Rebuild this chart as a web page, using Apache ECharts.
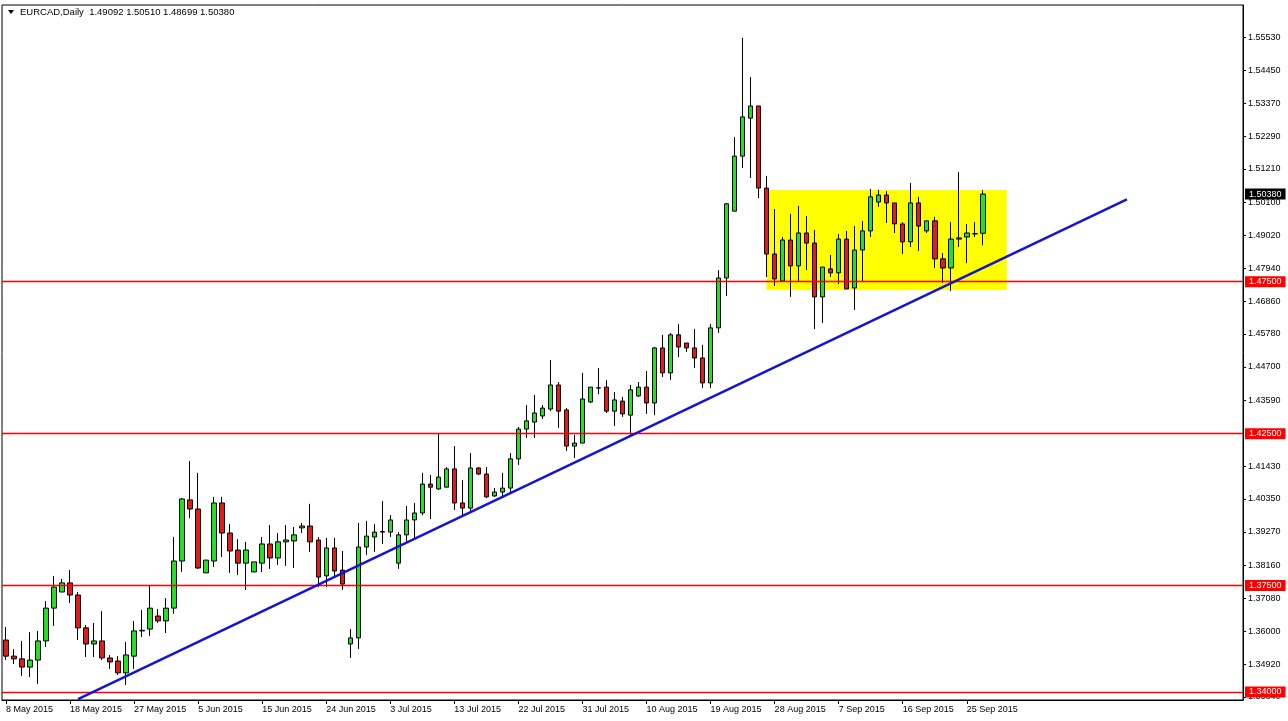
<!DOCTYPE html>
<html><head><meta charset="utf-8">
<script src="https://cdn.jsdelivr.net/npm/echarts@6/dist/echarts.min.js"></script>
<style>html,body{margin:0;padding:0;background:#fff}#c{width:1288px;height:721px}</style>
</head><body><div id="c"></div>
<script>
const symbolName = 'EURCAD,Daily';
const dates = ['8 May 2015','10 May 2015','11 May 2015','12 May 2015','13 May 2015','14 May 2015','15 May 2015','17 May 2015','18 May 2015','19 May 2015','20 May 2015','21 May 2015','22 May 2015','24 May 2015','25 May 2015','26 May 2015','27 May 2015','28 May 2015','29 May 2015','31 May 2015',
'1 Jun 2015','2 Jun 2015','3 Jun 2015','4 Jun 2015','5 Jun 2015','7 Jun 2015','8 Jun 2015','9 Jun 2015','10 Jun 2015','11 Jun 2015','12 Jun 2015','14 Jun 2015','15 Jun 2015','16 Jun 2015','17 Jun 2015','18 Jun 2015','19 Jun 2015','21 Jun 2015','22 Jun 2015','23 Jun 2015','24 Jun 2015','25 Jun 2015','26 Jun 2015','28 Jun 2015','29 Jun 2015','30 Jun 2015',
'1 Jul 2015','2 Jul 2015','3 Jul 2015','5 Jul 2015','6 Jul 2015','7 Jul 2015','8 Jul 2015','9 Jul 2015','10 Jul 2015','12 Jul 2015','13 Jul 2015','14 Jul 2015','15 Jul 2015','16 Jul 2015','17 Jul 2015','19 Jul 2015','20 Jul 2015','21 Jul 2015','22 Jul 2015','23 Jul 2015','24 Jul 2015','26 Jul 2015','27 Jul 2015','28 Jul 2015','29 Jul 2015','30 Jul 2015','31 Jul 2015',
'2 Aug 2015','3 Aug 2015','4 Aug 2015','5 Aug 2015','6 Aug 2015','7 Aug 2015','9 Aug 2015','10 Aug 2015','11 Aug 2015','12 Aug 2015','13 Aug 2015','14 Aug 2015','16 Aug 2015','17 Aug 2015','18 Aug 2015','19 Aug 2015','20 Aug 2015','21 Aug 2015','23 Aug 2015','24 Aug 2015','25 Aug 2015','26 Aug 2015','27 Aug 2015','28 Aug 2015','30 Aug 2015','31 Aug 2015',
'1 Sep 2015','2 Sep 2015','3 Sep 2015','4 Sep 2015','6 Sep 2015','7 Sep 2015','8 Sep 2015','9 Sep 2015','10 Sep 2015','11 Sep 2015','13 Sep 2015','14 Sep 2015','15 Sep 2015','16 Sep 2015','17 Sep 2015','18 Sep 2015','20 Sep 2015','21 Sep 2015','22 Sep 2015','23 Sep 2015','24 Sep 2015','25 Sep 2015','27 Sep 2015','28 Sep 2015'];

const open = [1.3571,1.3518,1.3509,1.3482,1.3505,1.3568,1.3676,1.3729,1.3759,1.3719,1.3611,1.3558,1.3568,1.3512,1.3502,1.3463,1.3518,1.3601,1.3607,1.3650,
1.3634,1.3676,1.3831,1.4032,1.4002,1.3792,1.3831,1.4022,1.3923,1.3867,1.3824,1.3795,1.3824,1.3887,1.3841,1.3894,1.3897,1.3940,1.3946,1.3900,1.3782,1.3874,1.3801,1.3558,1.3578,1.3877,
1.3910,1.3926,1.3926,1.3824,1.3917,1.3966,1.3989,1.4084,1.4068,1.4074,1.4134,1.4022,1.4005,1.4137,1.4117,1.4045,1.4058,1.4071,1.4167,1.4265,1.4288,1.4308,1.4331,1.4410,1.4328,1.4209,1.4219,
1.4354,1.4400,1.4403,1.4324,1.4357,1.4311,1.4374,1.4403,1.4351,1.4532,1.4450,1.4575,1.4548,1.4532,1.4499,1.4417,1.4598,1.4762,1.4982,1.5163,1.5288,1.5328,1.5058,1.4841,1.4752,1.4887,
1.4802,1.4910,1.4877,1.4700,1.4792,1.4779,1.4890,1.4729,1.4854,1.4917,1.5012,1.5035,1.5009,1.4940,1.4881,1.5009,1.4917,1.4950,1.4825,1.4795,1.4890,1.4897,1.4907,1.49092];
const high = [1.3614,1.3541,1.3568,1.3597,1.3601,1.3699,1.3782,1.3772,1.3801,1.3729,1.3620,1.3627,1.3666,1.3522,1.3518,1.3565,1.3634,1.3670,1.3749,1.3673,
1.3709,1.3910,1.4038,1.4160,1.4121,1.3834,1.4042,1.4042,1.3953,1.3903,1.3894,1.3828,1.3910,1.3949,1.3923,1.3949,1.3943,1.3956,1.4019,1.3910,1.3907,1.3907,1.3864,1.3607,1.3956,1.3963,
1.3953,1.4028,1.3982,1.3926,1.4012,1.4022,1.4121,1.4114,1.4252,1.4140,1.4209,1.4097,1.4186,1.4140,1.4140,1.4071,1.4121,1.4186,1.4272,1.4344,1.4377,1.4344,1.4492,1.4420,1.4334,1.4246,1.4450,
1.4403,1.4466,1.4426,1.4387,1.4371,1.4410,1.4420,1.4456,1.4535,1.4575,1.4581,1.4611,1.4548,1.4594,1.4542,1.4611,1.4788,1.5009,1.5226,1.5552,1.5423,1.5328,1.5098,1.4989,1.4897,1.4973,
1.4999,1.4966,1.4920,1.4798,1.4838,1.4907,1.4917,1.4933,1.4950,1.5055,1.5052,1.5048,1.5009,1.4946,1.5075,1.5029,1.4950,1.4963,1.4844,1.4946,1.5111,1.4940,1.4946,1.50510];
const low = [1.3505,1.3492,1.3453,1.3449,1.3426,1.3548,1.3617,1.3729,1.3693,1.3571,1.3515,1.3515,1.3505,1.3476,1.3456,1.3423,1.3476,1.3581,1.3584,1.3627,
1.3594,1.3657,1.3795,1.3972,1.3805,1.3792,1.3811,1.3844,1.3792,1.3785,1.3736,1.3795,1.3795,1.3805,1.3818,1.3815,1.3808,1.3923,1.3861,1.3745,1.3745,1.3782,1.3736,1.3512,1.3541,1.3850,
1.3861,1.3887,1.3910,1.3805,1.3890,1.3907,1.3982,1.3969,1.4065,1.4074,1.3999,1.3976,1.3992,1.4114,1.4038,1.4042,1.4042,1.4058,1.4147,1.4236,1.4236,1.4298,1.4324,1.4269,1.4193,1.4170,1.4219,
1.4351,1.4380,1.4318,1.4275,1.4305,1.4246,1.4371,1.4315,1.4311,1.4436,1.4426,1.4502,1.4519,1.4466,1.4400,1.4400,1.4581,1.4703,1.4982,1.5124,1.5091,1.5025,1.4765,1.4736,1.4749,1.4700,
1.4749,1.4788,1.4594,1.4614,1.4765,1.4742,1.4726,1.4657,1.4749,1.4897,1.4996,1.4943,1.4910,1.4841,1.4864,1.4851,1.4910,1.4795,1.4746,1.4719,1.4864,1.4811,1.4897,1.48699];
const close = [1.3518,1.3509,1.3482,1.3505,1.3568,1.3676,1.3745,1.3759,1.3719,1.3611,1.3558,1.3568,1.3512,1.3499,1.3463,1.3522,1.3601,1.3603,1.3676,1.3634,
1.3676,1.3831,1.4035,1.4002,1.3808,1.3834,1.4022,1.3923,1.3864,1.3824,1.3867,1.3828,1.3887,1.3841,1.3894,1.3900,1.3917,1.3946,1.3894,1.3778,1.3874,1.3798,1.3755,1.3578,1.3877,1.3913,
1.3926,1.3928,1.3966,1.3917,1.3966,1.3989,1.4084,1.4074,1.4107,1.4134,1.4022,1.4005,1.4137,1.4117,1.4042,1.4058,1.4071,1.4167,1.4265,1.4292,1.4318,1.4334,1.4410,1.4324,1.4209,1.4219,1.4364,
1.4403,1.4401,1.4324,1.4361,1.4315,1.4394,1.4403,1.4351,1.4532,1.4450,1.4575,1.4535,1.4532,1.4499,1.4417,1.4598,1.4762,1.5006,1.5163,1.5292,1.5328,1.5058,1.4841,1.4759,1.4887,1.4802,
1.4910,1.4877,1.4700,1.4798,1.4779,1.4890,1.4726,1.4854,1.4917,1.5029,1.5035,1.5009,1.4940,1.4881,1.5009,1.4933,1.4950,1.4825,1.4795,1.4890,1.4894,1.4910,1.4908,1.50380];

const futureSlots = 32;
const yTickValues = [1.3384,1.3492,1.3600,1.3708,1.3816,1.3927,1.4035,1.4143,1.4359,1.4470,1.4578,1.4686,1.4794,1.4902,1.5010,1.5121,1.5229,1.5337,1.5445,1.5553];
const levels = [1.475, 1.425, 1.375, 1.34];
const lastPrice = 1.5038;
const trendline = [[9, 1.33767], [140, 1.50209]];
const rangeBox = [[95, 1.50516], [125, 1.47226]];
const yMin = 1.33737, yMax = 1.56602;

const categories = dates.concat(Array.from({length: futureSlots}, (_, i) => 'f' + i));
const candles = open.map((o, i) => [o, close[i], low[i], high[i]]);
const last = open.length - 1;
const showLabel = (i) => i % 8 === 0 && i < dates.length;
const FONT = '"Liberation Sans", Arial, sans-serif';
const RED = '#ff0000';

const chart = echarts.init(document.getElementById('c'), null, {renderer: 'canvas'});
chart.setOption({
  animation: false,
  backgroundColor: '#ffffff',
  grid: {left: 2, right: 45, top: 5, bottom: 21, show: true, borderColor: '#000', borderWidth: 1, backgroundColor: '#fff'},
  graphic: [
    {type: 'polygon', shape: {points: [[8, 10], [14, 10], [11, 14]]}, style: {fill: '#000'}, z: 100},
    {type: 'text', left: 20, top: 7, z: 100, style: {
      text: symbolName + '  ' + [open[last], high[last], low[last], close[last]].map(v => v.toFixed(5)).join(' '),
      font: '9.5px ' + FONT, fill: '#000'}}
  ],
  xAxis: {
    type: 'category', data: categories, boundaryGap: true,
    axisLine: {show: true, lineStyle: {color: '#000', width: 1}},
    axisTick: {show: true, alignWithLabel: true, interval: showLabel, length: 4, lineStyle: {color: '#000'}},
    axisLabel: {interval: showLabel, align: 'left', fontSize: 9, fontFamily: FONT, color: '#000', margin: 5},
    splitLine: {show: false}
  },
  yAxis: {
    type: 'value', position: 'right', min: yMin, max: yMax, scale: true,
    splitLine: {show: false},
    axisLine: {show: true, lineStyle: {color: '#000'}},
    axisTick: {show: true, length: 3, customValues: yTickValues, lineStyle: {color: '#000'}},
    axisLabel: {customValues: yTickValues, formatter: v => v.toFixed(5), fontSize: 9, fontFamily: FONT, color: '#000', margin: 5}
  },
  series: [
    {
      type: 'line', data: [], z: 1, silent: true,
      markArea: {silent: true, itemStyle: {color: '#ffff00', opacity: 1},
        data: [[{coord: rangeBox[0]}, {coord: rangeBox[1]}]]}
    },
    {
      type: 'line', data: [], z: 2, silent: true, color: RED,
      itemStyle: {color: RED}, lineStyle: {color: RED},
      markLine: {silent: true, symbol: 'none', animation: false, precision: 5,
        lineStyle: {color: RED, width: 1.3, type: 'solid', opacity: 1},
        label: {show: true, position: 'end', distance: 2, formatter: p => Number(p.value).toFixed(5),
          backgroundColor: RED, color: '#fff', fontSize: 9, fontFamily: FONT, padding: [1, 4, 1, 4]},
        data: levels.map(v => ({yAxis: v, lineStyle: {color: RED, width: 1.3, type: 'solid', opacity: 1}}))}
    },
    {
      type: 'candlestick', data: candles, z: 3, barWidth: 5,
      itemStyle: {color: '#22e022', color0: '#e01b1b', borderColor: '#000', borderColor0: '#000', borderWidth: 1},
      markLine: {silent: true, symbol: 'none', animation: false, precision: 5,
        lineStyle: {color: 'rgba(0,0,0,0)', width: 1},
        label: {show: true, position: 'end', distance: 2, formatter: p => Number(p.value).toFixed(5),
          backgroundColor: '#000', color: '#fff', fontSize: 9, fontFamily: FONT, padding: [1, 4, 1, 4]},
        data: [{yAxis: lastPrice}]}
    },
    {
      type: 'line', data: trendline, z: 5, symbol: 'none', silent: true,
      lineStyle: {color: '#1414d2', width: 2.5}
    }
  ]
});
</script></body></html>
